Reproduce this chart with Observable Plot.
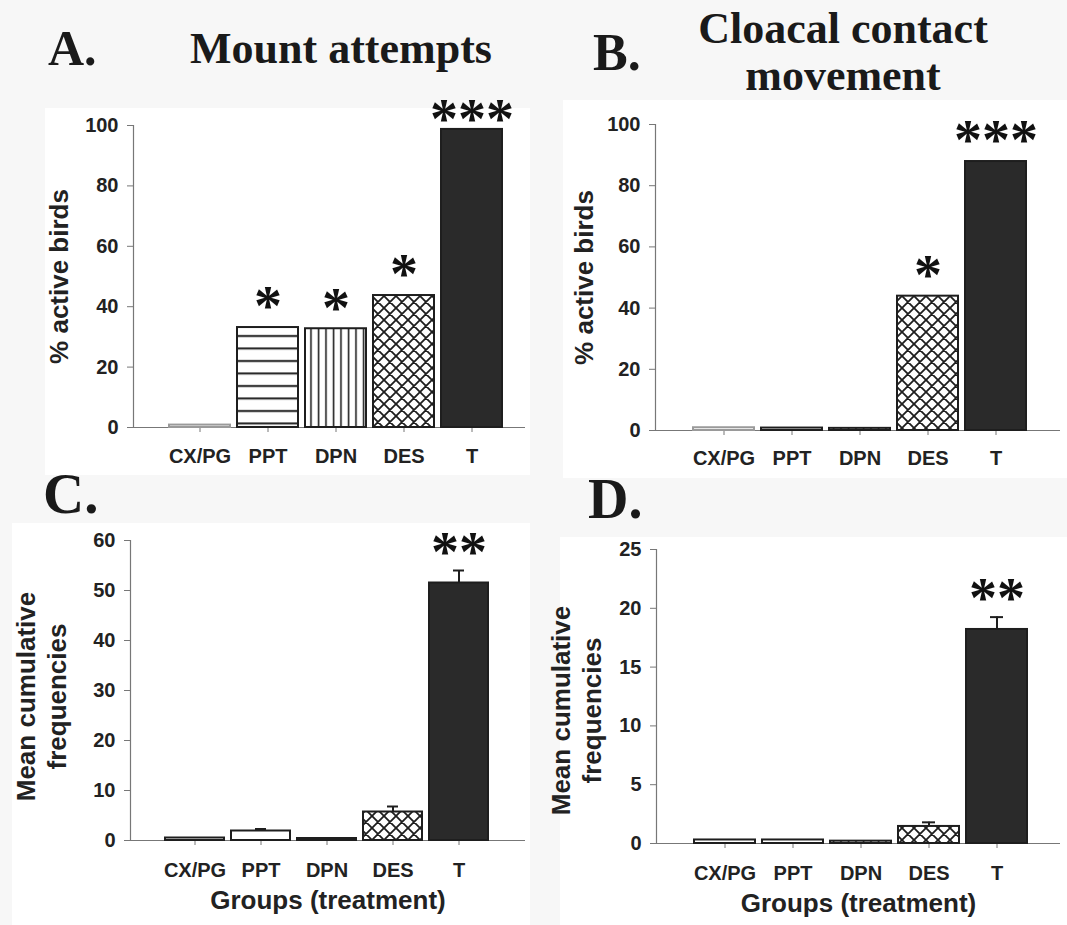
<!DOCTYPE html>
<html><head><meta charset="utf-8">
<script src="https://cdn.jsdelivr.net/npm/d3@7"></script>
<script src="https://cdn.jsdelivr.net/npm/@observablehq/plot@0.6"></script>
<style>
html,body{margin:0;padding:0;background:#f7f7f7;}
#fig{position:relative;width:1067px;height:925px;overflow:hidden;background:#f7f7f7;font-family:"Liberation Sans",Arial,sans-serif;}
.box{position:absolute;background:#fff;}
.panel{position:absolute;}
#titles{position:absolute;left:0;top:0;pointer-events:none;}
</style></head><body>
<svg width="0" height="0" style="position:absolute">
<defs>
<pattern id="hstripe" patternUnits="userSpaceOnUse" width="10" height="12.5">
<rect width="10" height="12.5" fill="#fff"/>
<line x1="0" x2="10" y1="6" y2="6" stroke="#1e1e1e" stroke-width="2"/>
</pattern>
<pattern id="vstripe" patternUnits="userSpaceOnUse" width="7.5" height="10">
<rect width="7.5" height="10" fill="#fff"/>
<line x1="3.5" x2="3.5" y1="0" y2="10" stroke="#1e1e1e" stroke-width="1.6"/>
</pattern>
<pattern id="xhatch" patternUnits="userSpaceOnUse" width="12" height="12">
<rect width="12" height="12" fill="#fff"/>
<path d="M0,0L12,12M12,0L0,12M-3,9L3,15M9,-3L15,3M-3,3L3,-3M9,15L15,9" stroke="#1e1e1e" stroke-width="1.8"/>
</pattern>
</defs>
</svg>
<div id="fig">
<div class="box" style="left:45px;top:108px;width:485px;height:367px"></div>
<div class="box" style="left:563px;top:100px;width:504px;height:378px"></div>
<div class="box" style="left:12px;top:523px;width:518px;height:402px"></div>
<div class="box" style="left:560px;top:537px;width:507px;height:388px"></div>
<div class="panel" id="pA" style="left:0;top:80px;width:530px"></div>
<div class="panel" id="pB" style="left:530px;top:80px;width:537px"></div>
<div class="panel" id="pC" style="left:0;top:480px;width:530px"></div>
<div class="panel" id="pD" style="left:530px;top:480px;width:537px"></div>
<svg id="titles" width="1067" height="925" font-family="'Liberation Serif','Times New Roman',serif" font-weight="bold" fill="#1a1a1a">
<text x="48" y="65" font-size="50">A.</text>
<text x="341" y="63" font-size="44" text-anchor="middle">Mount attempts</text>
<text x="593" y="70" font-size="52">B.</text>
<text x="843" y="43" font-size="44" text-anchor="middle">Cloacal contact</text>
<text x="843" y="90" font-size="44" text-anchor="middle">movement</text>
<text x="43" y="513" font-size="57">C.</text>
<text x="588" y="518" font-size="56">D.</text>
</svg>
</div>
<script>
// ---- data ----
const groups = ["CX/PG", "PPT", "DPN", "DES", "T"];
const mountPct = [0.8, 33.1, 32.7, 43.7, 98.7];
const cloacalPct = [0.9, 0.8, 0.7, 43.9, 87.9];
const mountMean = [0.5, 1.9, 0.4, 5.7, 51.5];
const mountSem = [0, 0.4, 0, 1.1, 2.5];
const cloacalMean = [0.3, 0.3, 0.2, 1.45, 18.2];
const cloacalSem = [0, 0, 0, 0.35, 1.05];
const sigA = ["", "*", "*", "*", "***"];
const sigB = ["", "", "", "*", "***"];
const sigC = ["", "", "", "", "**"];
const sigD = ["", "", "", "", "**"];
const ticksPct = [0, 20, 40, 60, 80, 100];
const ticksC = [0, 10, 20, 30, 40, 50, 60];
const ticksD = [0, 5, 10, 15, 20, 25];
const yLabelPct = "% active birds";
const yLabelFreq = "Mean cumulative\nfrequencies";
const xLabel = "Groups (treatment)";

const fillsTop = ["#fff", "url(#hstripe)", "url(#vstripe)", "url(#xhatch)", "#2a2a2a"];
const fillsBottom = ["#fff", "#fff", "url(#vstripe)", "url(#xhatch)", "#2a2a2a"];

function panel(o) {
  const data = groups.map((g, i) => ({group: g, value: o.values[i], err: o.errs ? o.errs[i] : 0, sig: o.sig[i]}));
  const errData = data.filter(d => d.err > 0);
  const ink = "#1e1e1e";
  const isFirst = d => d.group === groups[0];
  const isLast = d => d.group === groups[groups.length - 1];
  const starOpts = {x: "group", y: d => d.value + d.err, text: "sig", fontSize: 56, fontFamily: "'Liberation Serif','Times New Roman',serif", fontWeight: "bold", fill: "#111", lineAnchor: "middle"};
  const marks = [
    Plot.ruleY([0], {stroke: "#777", strokeWidth: 1.2}),
    Plot.frame({anchor: "left", stroke: "#777", strokeWidth: 1.2}),
    Plot.axisY({ticks: o.yTicks, tickSize: 6, tickPadding: 9, fontSize: 20, fontWeight: "bold", stroke: "#777", fill: "#222", label: null}),
    Plot.axisX({tickSize: 5, tickPadding: o.xPad, fontSize: 20, fontWeight: "bold", stroke: "#777", fill: "#222", label: null}),
    Plot.barY(data, {filter: d => !(o.lightFirst && isFirst(d)), x: "group", y: "value", fill: "group", stroke: ink, strokeWidth: 2}),
    Plot.barY(data, {filter: d => o.lightFirst && isFirst(d), x: "group", y: "value", fill: "group", stroke: "#9a9a9a", strokeWidth: 2}),
    Plot.ruleX(errData, {x: "group", y1: "value", y2: d => d.value + d.err, stroke: ink, strokeWidth: 2}),
    Plot.tickY(errData, {x: "group", y: d => d.value + d.err, stroke: ink, strokeWidth: 2, insetLeft: 24, insetRight: 24}),
    Plot.text(data, {...starOpts, filter: d => !isLast(d), dy: -20}),
    Plot.text(data, {...starOpts, filter: isLast, dy: o.lastStarDy || -20}),
    Plot.text([o.yLabel], {frameAnchor: "left", dx: o.ylDx, dy: o.ylDy || 0, rotate: -90, textAnchor: "middle", fontSize: 26, fontWeight: "bold", fill: "#222", lineHeight: 1.2, lineAnchor: "middle"})
  ];
  if (o.xLabel) marks.push(Plot.text([o.xLabel], {frameAnchor: "bottom", dy: 60, textAnchor: "middle", fontSize: 26, fontWeight: "bold", fill: "#222", lineAnchor: "middle"}));
  const p = Plot.plot({
    width: o.width, height: o.height,
    marginLeft: o.ml, marginRight: o.mr, marginTop: o.mt, marginBottom: o.mb,
    style: {background: "transparent", overflow: "visible", fontFamily: "'Liberation Sans',Arial,sans-serif"},
    x: {domain: groups, range: o.xRange, paddingInner: 0.1, paddingOuter: 0, axis: null},
    y: {domain: o.yDomain, axis: null},
    color: {type: "ordinal", domain: groups, range: o.fills},
    marks
  });
  document.getElementById(o.id).appendChild(p);
}

panel({id: "pA", values: mountPct, sig: sigA, yTicks: ticksPct, yDomain: [0, 100], yLabel: yLabelPct, ylDx: -75, lightFirst: true, lastStarDy: -9,
  width: 530, height: 400, ml: 133, mr: 5, mt: 45, mb: 53, xRange: [168, 503], xPad: 16, fills: fillsTop});
panel({id: "pB", values: cloacalPct, sig: sigB, yTicks: ticksPct, yDomain: [0, 100], yLabel: yLabelPct, ylDx: -72, lightFirst: true,
  width: 537, height: 400, ml: 125, mr: 7, mt: 44, mb: 50, xRange: [162, 498], xPad: 15, fills: fillsTop});
panel({id: "pC", values: mountMean, errs: mountSem, sig: sigC, yTicks: ticksC, yDomain: [0, 60], yLabel: yLabelFreq, ylDx: -90, ylDy: 6, xLabel, lastStarDy: -17,
  width: 530, height: 445, ml: 130, mr: 5, mt: 60, mb: 85, xRange: [163, 491], xPad: 17, fills: fillsBottom});
panel({id: "pD", values: cloacalMean, errs: cloacalSem, sig: sigD, yTicks: ticksD, yDomain: [0, 25], yLabel: yLabelFreq, ylDx: -81, ylDy: 14, xLabel, lastStarDy: -18,
  width: 537, height: 445, ml: 126, mr: 7, mt: 69, mb: 82, xRange: [162, 500], xPad: 17, fills: fillsBottom});
</script>
</body></html>
